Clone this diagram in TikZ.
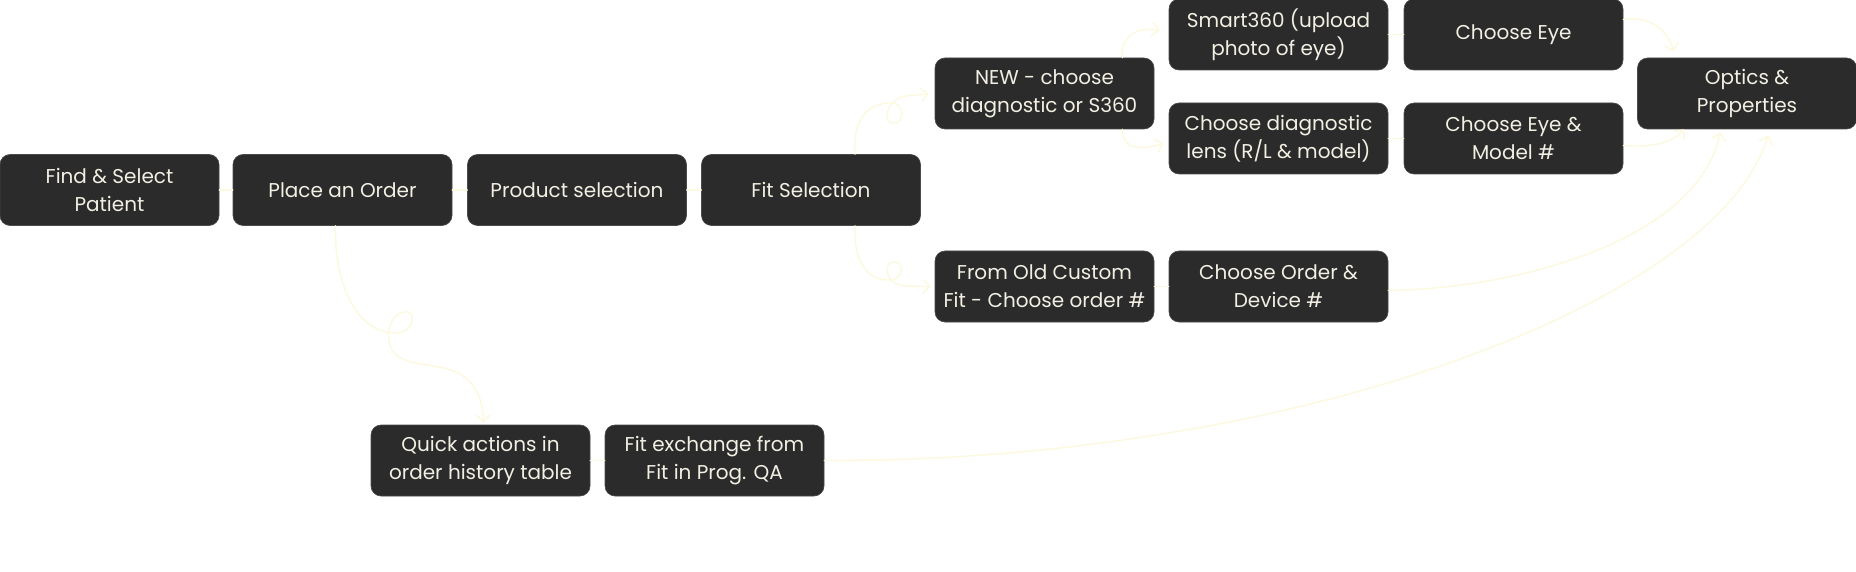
\documentclass[tikz,border=0pt]{standalone}
\usepackage{fontspec}
\setmainfont{Poppins}
\usetikzlibrary{arrows.meta,calc}
\definecolor{boxfill}{HTML}{2B2B2B}
\definecolor{boxline}{HTML}{4A4A4A}
\definecolor{boxtext}{HTML}{F2EFE3}
\definecolor{wirecol}{HTML}{FCF9DE}
\tikzset{
  box/.style={draw=boxline, line width=0.6pt, fill=boxfill, rounded corners=10pt,
    minimum width=219pt, minimum height=71pt, inner sep=0pt, align=center,
    text=boxtext, font=\fontsize{20}{27.7}\selectfont},
  wire/.style={draw=wirecol, line width=1.4pt, line cap=round, line join=round},
  arr/.style={wire, -{Straight Barb[length=7pt,width=14pt]}}
}
\begin{document}
\begin{tikzpicture}[x=1pt,y=-1pt]
\fill[white] (0,0) rectangle (1856,572);
\useasboundingbox (0,0) rectangle (1856,572);
% main row
\node[box] (find)    at (109.5,190) {Find \& Select\\Patient};
\node[box] (place)   at (342.5,190) {Place an Order};
\node[box] (product) at (577,190)   {Product selection};
\node[box] (fitsel)  at (811,190)   {Fit Selection};
% branches
\node[box] (new)     at (1044.5,93.5)  {NEW - choose\\diagnostic or S360};
\node[box] (fromold) at (1044.5,286.5) {From Old Custom\\Fit - Choose order \#};
\node[box] (smart)   at (1278.5,34.5)  {Smart360 (upload\\photo of eye)};
\node[box] (diag)    at (1278.5,138.5) {Choose diagnostic\\lens (R/L \& model)};
\node[box] (corder)  at (1278.5,286.5) {Choose Order \&\\Device \#};
\node[box] (ceye)    at (1513.5,34.5)  {Choose Eye};
\node[box] (emodel)  at (1513.5,138.5) {Choose Eye \&\\Model \#};
\node[box] (optics)  at (1747,93.5)    {Optics \&\\Properties};
\node[box] (quick)   at (480.5,460.5)  {Quick actions in\\order history table};
\node[box] (fitex)   at (714.5,460.5)  {Fit exchange from\\Fit in Prog. QA};
% short links
\draw[wire] (find.east) -- (place.west);
\draw[wire] (place.east) -- (product.west);
\draw[wire] (product.east) -- (fitsel.west);
\draw[wire] (smart.east) -- (ceye.west);
\draw[wire] (diag.east) -- (emodel.west);
\draw[wire] (fromold.east) -- (corder.west);
\draw[wire] (quick.east) -- (fitex.west);
% curly links
\draw[arr] ([xshift=-7pt]place.south) .. controls (334,290) and (360,333) .. (395,333)
  .. controls (414,333) and (418,310) .. (404,312)
  .. controls (390,314) and (384,336) .. (392,350)
  .. controls (402,368) and (440,362) .. (460,374)
  .. controls (476,384) and (483,400) .. ([xshift=3pt,yshift=2pt]quick.north);
\draw[arr] ([xshift=44pt]fitsel.north) .. controls (852,120) and (868,102) .. (892,103)
  .. controls (906,104) and (904,126) .. (892,123)
  .. controls (880,120) and (890,98) .. (905,96)
  .. controls (912,95) and (920,95) .. ([xshift=-6pt]new.west);
\draw[arr] ([xshift=44pt]fitsel.south) .. controls (853,262) and (868,281) .. (890,280)
  .. controls (905,279) and (904,260) .. (893,262)
  .. controls (882,264) and (886,285) .. (905,286)
  .. controls (915,286.5) and (922,286.5) .. ([xshift=-4pt]fromold.west);
\draw[arr] ([xshift=78pt]new.north) .. controls (1120,38) and (1135,26) .. ([xshift=-9pt,yshift=4pt]smart.west);
\draw[arr] ([xshift=78pt]new.south) .. controls (1122,150) and (1142,150) .. ([xshift=-5pt,yshift=-5pt]diag.west);
\draw[arr] ([yshift=15pt]ceye.east) .. controls (1652,15) and (1668,32) .. ([xshift=-73pt,yshift=6pt]optics.north);
\draw[arr] ([yshift=-7pt]emodel.east) .. controls (1652,148) and (1674,142) .. ([xshift=-63pt]optics.south);
\draw[arr] ([yshift=-4pt]corder.east) .. controls (1530,288) and (1700,235) .. ([xshift=-27pt,yshift=-3pt]optics.south);
\draw[arr] (fitex.east) .. controls (1300,462) and (1720,300) .. ([xshift=21pt,yshift=-6pt]optics.south);
\end{tikzpicture}
\end{document}
